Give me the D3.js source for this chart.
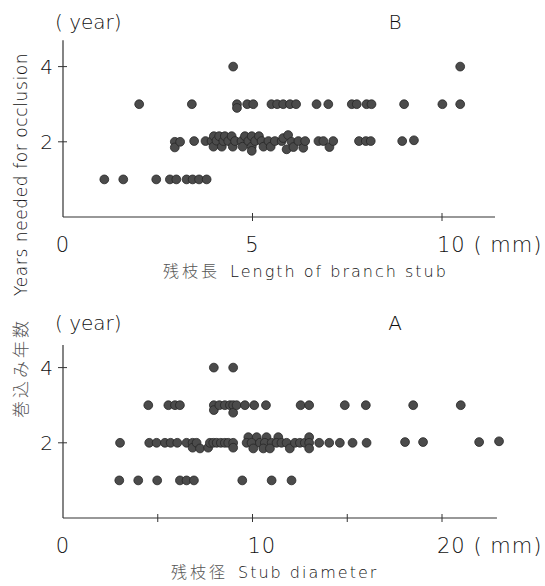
<!DOCTYPE html>
<html>
<head>
<meta charset="utf-8">
<script src="https://cdn.jsdelivr.net/npm/d3@7"></script>
<style>
  body { margin: 0; background: #fff; }
  text { font-family: "DejaVu Sans", sans-serif; font-weight: 200; fill: #111; }
  .jp { font-family: "Noto Sans CJK JP", sans-serif; font-weight: 300; fill: #555; }
</style>
</head>
<body>
<div id="svg"></div>
<script>
// panel B: stub length (mm) vs years needed for occlusion
var lengthB = [1.09,1.59,2.46,2.82,2.99,3.26,3.42,3.59,3.79,
  2.01,3.40,4.59,4.59,4.86,5.02,5.50,5.65,5.81,5.99,6.15,6.69,7.00,7.62,7.75,8.01,8.14,9.00,10.01,10.48,
  4.49,10.48,
  2.95,2.95,3.09,3.46,3.76,3.92,3.98,3.97,4.05,4.12,4.19,4.23,4.27,4.36,4.45,4.48,4.54,4.71,4.74,4.80,
  4.89,4.98,4.98,4.98,5.07,5.17,5.24,5.29,5.42,5.48,5.59,5.77,5.81,5.94,6.03,5.90,6.08,6.21,6.34,6.39,
  6.74,6.87,7.03,7.13,7.81,7.99,8.12,8.95,9.26];
var yearsB = [1,1,1,1,1,1,1,1,1,
  3,3,3,2.9,3,3,3,3,3,3,3,3,3,3,3,3,3,3,3,3,
  4,4,
  2,1.85,2,2.02,2.02,2.02,2.15,1.87,2.03,2.15,1.87,2.02,2.15,2.02,2.15,1.87,2.02,2.02,1.87,2.15,
  2.02,2.15,1.87,1.76,2.02,2.15,2.02,1.87,2.02,1.87,2.02,2.02,2.1,2.18,2.0,1.8,1.86,2.02,1.84,2.02,
  2.02,2.02,1.86,2.02,2.02,2.02,2.02,2.02,2.04];

// panel A: stub diameter (mm) vs years needed for occlusion
var diamA = [7.96,8.98,
  4.50,5.56,5.91,6.17,7.96,7.96,8.25,8.54,8.81,8.98,8.98,9.16,9.60,10.09,10.71,12.54,12.99,14.87,15.98,18.48,20.99,
  2.97,3.97,4.97,6.17,6.52,6.91,9.46,11.01,12.06,
  3.01,4.55,4.94,5.38,5.68,6.03,6.52,6.84,6.84,7.05,7.23,7.66,7.75,7.93,8.11,8.33,8.54,8.72,8.98,8.98,
  9.78,10.22,10.74,11.36,9.69,9.95,10.39,10.65,11.01,11.27,10.04,10.57,10.92,
  11.53,11.8,11.97,12.24,12.5,12.76,12.99,12.99,12.99,
  13.52,14.05,14.61,15.28,16.02,18.05,19.0,21.96,23.01];
var yearsA = [4,4,
  3,3,3,3,3,2.87,3,3,3,3,2.8,3,3,3,3,3,3,3,3,3,3,
  1,1,1,1,1,1,1,1,1,
  2,2,2,2,2,2,2,2,1.87,2,1.85,1.87,2,2,2,2,2,2,2,1.87,
  2.15,2.15,2.15,2.15,2,2,2,2,2,2,1.85,1.85,1.85,
  2,2,1.85,2,2,2,2.15,2,1.85,
  2,2,2,2,2,2.02,2.02,2.02,2.04];

var yTicks = [2, 4];
var xTicksB = [5, 10], xLabelsB = [0, 5, 10];
var xTicksA = [5, 10, 15, 20], xLabelsA = [0, 10, 20];

var svg = d3.select("#svg").append("svg")
  .attr("width", 545).attr("height", 586);

function panel(opt) {
  var x = d3.scaleLinear().domain([0, opt.xmax]).range([63, 442]);
  var y = d3.scaleLinear().domain([0, 4]).range([opt.y0, opt.y0 - 150.4]);
  var g = svg.append("g");

  // axes lines
  g.append("line").attr("x1", x(0)).attr("x2", x(opt.xend))
    .attr("y1", y(0)).attr("y2", y(0))
    .style("stroke", "#333").style("stroke-width", 1.2);
  g.append("line").attr("x1", x(0)).attr("x2", x(0))
    .attr("y1", y(0)).attr("y2", y(opt.ytop))
    .style("stroke", "#333").style("stroke-width", 1.2);

  g.selectAll(".xt").data(opt.xticks).enter().append("line")
    .attr("x1", function(d) { return x(d); }).attr("x2", function(d) { return x(d); })
    .attr("y1", y(0) - 4).attr("y2", y(0) + 4)
    .style("stroke", "#333");
  g.selectAll(".yt").data(yTicks).enter().append("line")
    .attr("x1", x(0) - 5).attr("x2", x(0) + 4)
    .attr("y1", function(d) { return y(d); }).attr("y2", function(d) { return y(d); })
    .style("stroke", "#333");

  g.selectAll(".yl").data(yTicks).enter().append("text")
    .attr("x", x(0) - 10).attr("y", function(d) { return y(d) + 7; })
    .attr("text-anchor", "end").style("font-size", "20px")
    .text(function(d) { return d; });

  g.selectAll(".xl").data(opt.xlabels).enter().append("text")
    .attr("x", function(d) { return x(d) + (d >= 10 ? -5 : 0); })
    .attr("y", opt.y0 + 35)
    .attr("text-anchor", function(d) { return d >= 10 ? "start" : "middle"; })
    .style("font-size", "21px")
    .style("letter-spacing", "1px")
    .text(function(d, i) { return i == opt.xlabels.length - 1 ? d + " ( mm)" : d; });

  g.append("text").attr("x", 55).attr("y", opt.y0 - 188)
    .style("font-size", "20px").text("( year)");
  g.append("text").attr("x", 395).attr("y", opt.y0 - 188)
    .attr("text-anchor", "middle").style("font-size", "20px").text(opt.tag);

  var t = g.append("text").attr("x", opt.titleX).attr("y", opt.y0 + 60)
    .style("font-size", "16px");
  t.append("tspan").attr("class", "jp").style("letter-spacing", "3px").text(opt.titleJp);
  t.append("tspan").attr("dx", 10).style("letter-spacing", "2px").text(opt.title);

  g.selectAll("circle").data(opt.xs).enter().append("circle")
    .attr("cx", function(d) { return x(d); })
    .attr("cy", function(d, i) { return y(opt.ys[i]); })
    .attr("r", 4.4)
    .style("fill", "#4b4b4b")
    .style("stroke", "#262626")
    .style("stroke-width", 0.8);
}

panel({xmax: 10, xend: 11.4, ytop: 4.7, y0: 217, xs: lengthB, ys: yearsB,
  xticks: xTicksB, xlabels: xLabelsB, tag: "B", titleJp: "残枝長", title: "Length of branch stub", titleX: 163});
panel({xmax: 20, xend: 22.9, ytop: 4.6, y0: 518, xs: diamA, ys: yearsA,
  xticks: xTicksA, xlabels: xLabelsA, tag: "A", titleJp: "残枝径", title: "Stub diameter", titleX: 171});

var ylab = svg.append("text")
  .attr("transform", "translate(27,418) rotate(-90)")
  .style("font-size", "17px");
ylab.append("tspan").attr("class", "jp").style("letter-spacing", "3px").text("巻込み年数");
ylab.append("tspan").attr("dx", 22).style("letter-spacing", "0.6px")
  .text("Years needed for occlusion");
</script>
</body>
</html>
